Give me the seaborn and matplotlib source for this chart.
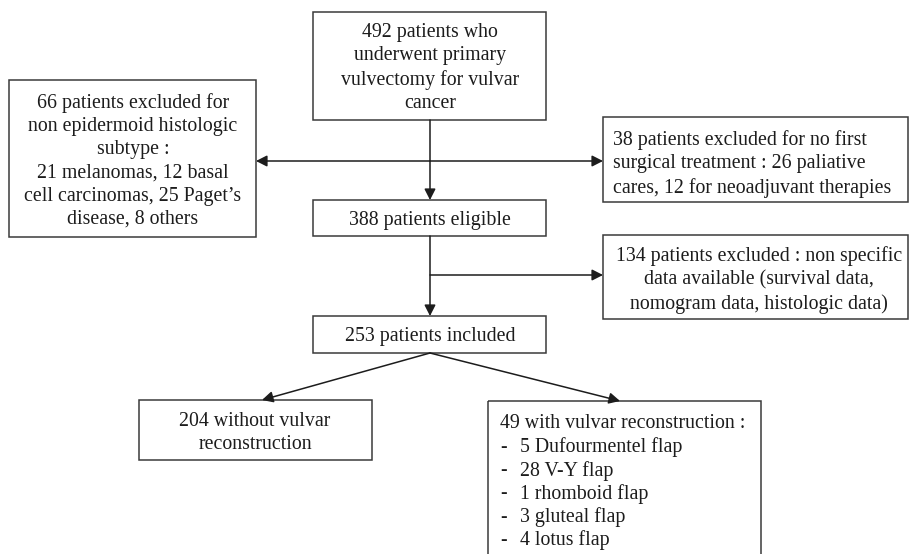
import matplotlib.pyplot as plt
import seaborn as sns
from matplotlib.patches import Rectangle

# flowchart counts
n_total = 492
n_eligible = 388
n_included = 253
n_no_recon = 204
n_recon = 49

histo_names = ["melanomas", "basal\ncell carcinomas", "Paget\u2019s\ndisease", "others"]
histo_counts = [21, 12, 25, 8]
n_histo = sum(histo_counts)

treat_names = ["paliative\ncares", "for neoadjuvant therapies"]
treat_counts = [26, 12]
n_treat = sum(treat_counts)

n_missing = 134

flap_names = ["Dufourmentel flap", "V-Y flap", "rhomboid flap", "gluteal flap", "lotus flap"]
flap_counts = [5, 28, 1, 3, 4]

INK = "#1c1c1c"
EDGE = "#3a3a3a"
FS = 14.3
DY = 2  # small downward nudge for text baselines


def box(ax, x0, y0, x1, y1):
    ax.add_patch(Rectangle((x0, y0), x1 - x0, y1 - y0, fill=False,
                           edgecolor=EDGE, linewidth=1.1))


def arrow(ax, p0, p1):
    ax.annotate("", xy=p1, xytext=p0,
                arrowprops=dict(arrowstyle="-|>,head_length=0.55,head_width=0.28",
                                color=INK, lw=1.1, shrinkA=0, shrinkB=0,
                                mutation_scale=12))


def main():
    sns.set_style("white")
    plt.rcParams["font.family"] = ["Liberation Serif", "DejaVu Serif"]

    fig = plt.figure(figsize=(9.1, 5.54), dpi=100)
    ax = fig.add_axes([0, 0, 1, 1])
    ax.set_xlim(0, 910)
    ax.set_ylim(554, 0)
    ax.axis("off")

    txt = dict(fontsize=FS, color=INK, linespacing=1.29)

    # top box
    box(ax, 313, 12, 546, 120)
    ax.text(430, 66 + DY, f"{n_total} patients who\nunderwent primary\nvulvectomy for vulvar\ncancer",
            ha="center", va="center", **txt)

    # left exclusion box
    box(ax, 9, 80, 256, 237)
    parts = [f"{c} {n}" for c, n in zip(histo_counts, histo_names)]
    left_text = (f"{n_histo} patients excluded for\nnon epidermoid histologic\nsubtype :\n"
                 + ", ".join(parts))
    ax.text(133, 159 + DY, left_text, ha="center", va="center", **txt)

    # right exclusion box (treatment)
    box(ax, 603, 117, 908, 202)
    tparts = [f"{c} {n}" for c, n in zip(treat_counts, treat_names)]
    ax.text(613, 162 + DY, f"{n_treat} patients excluded for no first\nsurgical treatment : "
            + ", ".join(tparts), ha="left", va="center", **txt)

    # eligible
    box(ax, 313, 200, 546, 236)
    ax.text(430, 218 + DY, f"{n_eligible} patients eligible", ha="center", va="center", **txt)

    # missing data box
    box(ax, 603, 235, 908, 319)
    ax.text(759, 278 + DY, f"{n_missing} patients excluded : non specific\ndata available (survival data,\n"
            "nomogram data, histologic data)", ha="center", va="center", **txt)

    # included
    box(ax, 313, 316, 546, 353)
    ax.text(430, 335 + DY, f"{n_included} patients included", ha="center", va="center", **txt)

    # without reconstruction
    box(ax, 139, 400, 372, 460)
    ax.text(255, 431 + DY, f"{n_no_recon} without vulvar\nreconstruction",
            ha="center", va="center", **txt)

    # with reconstruction
    box(ax, 488, 401, 761, 570)
    ax.text(500, 422 + DY, f"{n_recon} with vulvar reconstruction :", ha="left", va="center", **txt)
    for i, (c, n) in enumerate(zip(flap_counts, flap_names)):
        y = 445.5 + i * 23.2 + DY
        ax.text(500, y, "-", ha="left", va="center", **txt)
        ax.text(520, y, f"{c} {n}", ha="left", va="center", **txt)

    # connectors
    arrow(ax, (430, 120), (430, 200))
    arrow(ax, (430, 161), (256, 161))
    arrow(ax, (430, 161), (603, 161))
    arrow(ax, (430, 236), (430, 316))
    arrow(ax, (430, 275), (603, 275))
    arrow(ax, (430, 353), (262, 400))
    arrow(ax, (430, 353), (620, 401))

    fig.savefig("out.png", dpi=100, facecolor="white")


if __name__ == "__main__":
    main()
